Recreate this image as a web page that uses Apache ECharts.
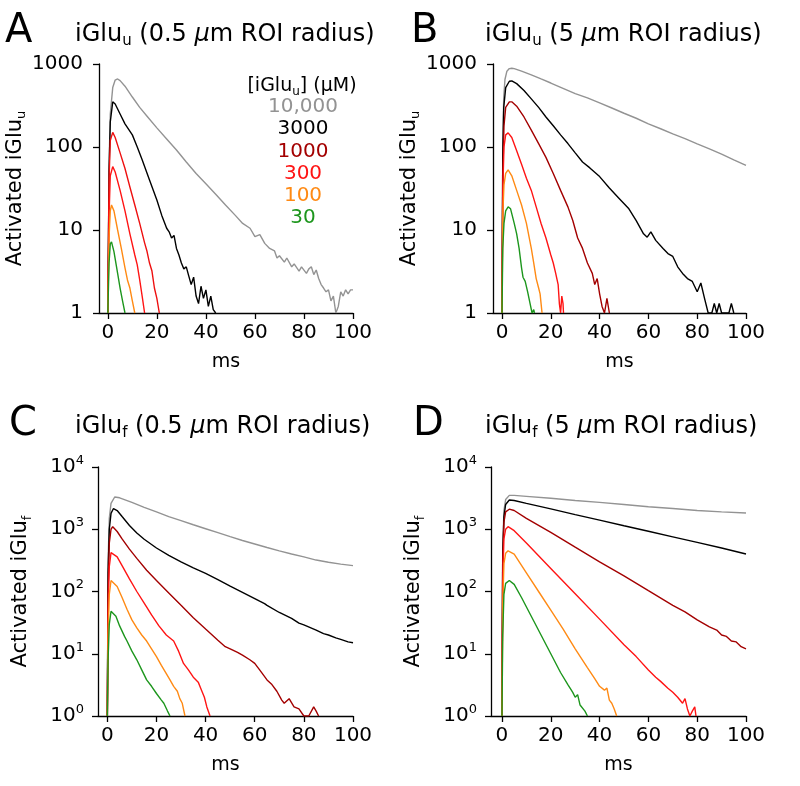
<!DOCTYPE html>
<html><head><meta charset="utf-8">
<script src="https://cdn.jsdelivr.net/npm/echarts@6/dist/echarts.min.js"></script>
<style>html,body{margin:0;padding:0;background:#fff}#c{width:800px;height:786px}</style>
</head><body><div id="c"></div>
<script>
const concLabels = ['10,000','3000','1000','300','100','30'];
const lineColors = ['#939393','#000000','#a30000','#ff1414','#ff8a14','#1d961d'];
const panelALineColors = ['#939393','#000000','#ee1010','#ff1414','#ff8a14','#1d961d'];
const xTicks = [0,20,40,60,80,100];

// Panel A: iGlu_u, 0.5 um ROI
const A_10000 = [[0,1],[0.5,60],[1,250],[2,520],[3,640],[4,660],[5,630],[7,540],[10,400],[13,300],[16,235],[20,170],[24,125],[28,92],[32,66],[36,48],[40,36],[44,27],[48,20],[52,15],[55,12],[58,10.5],[60,8.3],[62,8.8],[64,6.9],[66,6.0],[68,5.6],[69,4.6],[70,4.9],[72,4.1],[73,4.6],[75,3.6],[76,3.9],[78,3.2],[79,3.6],[81,3.0],[82,3.4],[83,3.6],[84,2.9],[85,3.3],[86,2.6],[87,2.2],[88,2.0],[89,1.8],[90,1.9],[91,1.4],[92,1.6],[93,1.0],[94,1.2],[95,1.8],[96,1.6],[97,1.9],[98,1.7],[99,1.9],[100,1.9]];
const A_3000 = [[0,1],[0.5,50],[1,200],[2,350],[3,330],[5,250],[7,190],[10,140],[12,100],[14,70],[17,40],[20,23],[22,15],[24,10.5],[25,9.5],[26,8],[27,8.6],[28,6],[29,5],[30,4],[31,3.4],[32,3.6],[33,2.8],[34,2.2],[35,2.7],[36,1.6],[37,1.3],[38,2.1],[39,1.5],[40,1.9],[41,1.2],[42,1.6],[43,1.1],[44,1]];
const A_1000 = [[0,1],[0.5,40],[1,120],[2,150],[3,130],[5,85],[7,55],[9,33],[11,20],[13,12],[15,7],[16,5.5],[17,4],[18,3.2],[19,2.0],[20,1.5],[21,1]];
const A_300 = [[0,1],[0.5,15],[1,45],[2,58],[3,50],[5,30],[7,17],[9,9],[11,5],[12,3.8],[13,2.5],[14,1.6],[15,1]];
const A_100 = [[0,1],[0.5,8],[1,17],[1.5,20],[2.5,17],[4,10],[5.5,6],[7,3.5],[8,2.5],[9,2.0],[10,1.4],[11,1]];
const A_30 = [[0,1],[0.5,4],[1,6.8],[1.5,7.2],[2.5,5.5],[4,3],[5,2],[6,1.4],[7,1]];

// Panel B: iGlu_u, 5 um ROI
const B_10000 = [[0,1],[0.3,100],[0.7,400],[1.2,650],[2,820],[3,880],[4,890],[5,880],[8,820],[12,740],[16,660],[20,590],[25,510],[30,440],[35,390],[40,340],[45,295],[50,255],[55,222],[60,190],[65,166],[70,144],[75,126],[80,109],[85,95],[90,82],[95,70],[100,60]];
const B_3000 = [[0,1],[0.3,80],[0.7,300],[1.5,520],[3,620],[4,625],[6,580],[9,480],[12,380],[15,300],[18,230],[21,180],[24,140],[27,110],[30,85],[33,66],[36,56],[40,44],[44,32],[48,24],[52,18],[55,13],[58,9],[59.5,8.2],[61,9.5],[63,7.5],[66,6],[68,5.2],[70,4.8],[72,3.6],[74,3.0],[76,2.6],[78,2.4],[80,1.8],[81.5,2.3],[83,1.5],[84.5,1],[86,1],[87,1.3],[88,1],[89,1.3],[90,1],[93,1],[94,1.3],[95,1]];
const B_1000 = [[0,1],[0.3,40],[0.8,180],[1.5,300],[3,350],[4,350],[6,310],[9,230],[12,160],[15,110],[18,75],[21,48],[24,30],[27,19],[29,13],[31,8],[33,6],[35,4],[37,3],[38,2.2],[39,2.6],[40,1.7],[41,1.2],[42,1],[43,1.5],[44,1]];
const B_300 = [[0,1],[0.3,30],[0.8,100],[1.5,140],[2.5,148],[4,130],[6,90],[8,62],[10,42],[12,30],[14,19],[16,12],[18,8],[20,5],[21,4],[22,3],[23,2.2],[23.5,1.3],[24,1],[24.5,1.6],[25,1.3],[25.2,1]];
const B_100 = [[0,1],[0.3,15],[0.8,35],[1.5,48],[2.5,53],[4,45],[6,30],[8,20],[10,12],[12,6],[13,4],[14,2.6],[15,2],[15.6,1.7],[16.4,1]];
const B_30 = [[0,1],[0.3,6],[0.8,12],[1.5,17],[2.5,19],[3.5,18],[5,12],[6,9],[7,6],[8,3.5],[8.6,2.7],[9.5,2.4],[10.5,1.8],[11.5,1.3],[12.3,1],[13,1.1],[13.3,1]];

// Panel C: iGlu_f, 0.5 um ROI
const C_10000 = [[0,1],[0.3,300],[0.8,1500],[1.5,2600],[3,3300],[5,3200],[10,2700],[15,2250],[20,1900],[25,1600],[30,1380],[35,1180],[40,1020],[45,880],[50,760],[55,660],[60,580],[65,510],[70,450],[75,400],[80,360],[85,320],[90,295],[95,275],[100,260]];
const C_3000 = [[0,1],[0.3,200],[0.8,1000],[1.5,1800],[2.5,2150],[4,2000],[6,1600],[9,1150],[12,870],[15,690],[20,500],[25,380],[30,300],[35,240],[40,195],[45,155],[50,122],[55,97],[60,77],[62,70],[64,64],[65,60],[70,46],[75,37],[78,31],[80,29],[85,24],[88,21],[90,20],[93,18],[95,17],[98,15.5],[100,15]];
const C_1000 = [[0,1],[0.3,100],[0.8,600],[1.5,1000],[2.2,1100],[4,920],[6,700],[9,480],[12,340],[16,220],[20,150],[25,95],[30,60],[35,38],[40,25],[45,16.5],[48,13],[50,12],[53,10.5],[55,9.5],[58,8],[60,7],[62,5.5],[65,3.8],[67,3.2],[69,2.5],[71,1.8],[72,1.6],[74,1.9],[76,1.4],[78,1.3],[80,1],[82,1],[84,1.4],[85,1.2],[86,1]];
const C_300 = [[0,1],[0.3,50],[0.8,250],[1.5,420],[2.2,450],[4,360],[6,260],[9,160],[12,100],[15,65],[18,42],[21,28],[24,20],[27,16],[29,11],[31,7],[33,5.5],[35,4.2],[37,3.5],[38,2.8],[39.5,2],[40.5,1.4],[41.8,1]];
const C_100 = [[0,1],[0.3,20],[0.8,90],[1.5,150],[2.2,160],[4,120],[6,80],[8,52],[10,35],[12,26],[14,20],[16,16],[18,12],[20,9],[22,6.5],[24,4.8],[25.5,3.8],[27,3],[28.5,2.5],[29.5,1.9],[30.5,1.6],[31.6,1]];
const C_30 = [[0,1],[0.3,8],[0.8,30],[1.5,48],[2.2,50],[3.5,40],[5,28],[7,19],[8,16],[10,11],[12,8],[14,5.5],[16,3.8],[18,3],[20,2.3],[22,1.8],[23,1.6],[24.5,1.2],[25.5,1]];

// Panel D: iGlu_f, 5 um ROI
const D_10000 = [[0,1],[0.3,500],[0.8,2000],[1.5,3000],[3,3500],[5,3500],[10,3380],[20,3150],[30,2900],[40,2700],[50,2500],[60,2300],[70,2150],[80,2000],[90,1900],[100,1820]];
const D_3000 = [[0,1],[0.3,400],[0.8,1600],[1.5,2500],[3,2950],[5,2900],[10,2600],[20,2120],[30,1720],[40,1400],[50,1140],[60,930],[70,755],[80,615],[90,500],[100,400]];
const D_1000 = [[0,1],[0.3,300],[0.8,1300],[1.5,1900],[3,2100],[5,2000],[10,1500],[20,890],[30,515],[40,300],[50,178],[60,103],[70,60],[75,47],[80,35],[85,27],[88,24],[90,20],[92,19],[94,16],[96,15.5],[98,13],[100,12]];
const D_300 = [[0,1],[0.3,150],[0.8,700],[1.5,1000],[2.5,1100],[5,950],[10,600],[20,235],[30,92],[40,36],[50,14],[55,9],[60,5.5],[63,4.2],[65,3.6],[68,2.8],[70,2.4],[72,2.0],[74,1.6],[75,1.9],[76,1.3],[77,1],[78,1.2],[79,1.4],[79.5,1]];
const D_100 = [[0,1],[0.3,60],[0.8,280],[1.5,410],[2.5,450],[5,400],[10,200],[15,100],[20,50],[25,25],[30,12],[35,6],[38,4],[40,3],[42,2.6],[43,2.8],[44,1.8],[45,1.6],[46,1.3],[47,1]];
const D_30 = [[0,1],[0.3,20],[0.8,90],[1.5,135],[3,150],[5,130],[8,80],[12,40],[16,20],[20,10],[24,5],[27,3.2],[29,2.4],[30,2],[31,2.2],[32,1.5],[34,1.2],[35,1]];

const panelData = [
  [A_10000, A_3000, A_1000, A_300, A_100, A_30],
  [B_10000, B_3000, B_1000, B_300, B_100, B_30],
  [C_10000, C_3000, C_1000, C_300, C_100, C_30],
  [D_10000, D_3000, D_1000, D_300, D_100, D_30]
];

const FF = "'DejaVu Sans'";
const grids = [
  {left: 99, top: 64, width: 254, height: 249, xmin: -3.6, ymax: 1000, sub: 'u'},
  {left: 493, top: 64, width: 253, height: 249, xmin: -3.7, ymax: 1000, sub: 'u'},
  {left: 98, top: 467, width: 255, height: 249, xmin: -3.8, ymax: 10000, sub: 'f'},
  {left: 491, top: 467, width: 255, height: 249, xmin: -4.5, ymax: 10000, sub: 'f'}
];
const TF = 24;
const richTitle = {
  a: {fontSize: TF, fontFamily: FF, fontWeight: 'normal', color: '#000', lineHeight: 28},
  s: {fontSize: 15, fontFamily: FF, fontWeight: 'normal', color: '#000', lineHeight: 15, verticalAlign: 'bottom'},
  i: {fontSize: TF, fontFamily: FF, fontWeight: 'normal', color: '#000', lineHeight: 28, fontStyle: 'italic'}
};
const letters = ['A','B','C','D'];
const titles = [
  '{a|iGlu}{s|u}{a| (0.5 }{i|\u03bc}{a|m ROI radius)}',
  '{a|iGlu}{s|u}{a| (5 }{i|\u03bc}{a|m ROI radius)}',
  '{a|iGlu}{s|f}{a| (0.5 }{i|\u03bc}{a|m ROI radius)}',
  '{a|iGlu}{s|f}{a| (5 }{i|\u03bc}{a|m ROI radius)}'
];
const letterPos = [[0,7],[406,7],[4,400],[408,400]];
const titlePos = [[70,16],[480,16],[70,408],[480,408]];

const axisLineStyle = {color: '#000', width: 1.3};
const option = {
  animation: false,
  backgroundColor: '#fff',
  title: [].concat(
    letters.map((l, i) => ({text: l, left: letterPos[i][0], top: letterPos[i][1], textStyle: {fontSize: 40, fontWeight: 'normal', fontFamily: FF, color: '#000'}})),
    titles.map((t, i) => ({text: t, left: titlePos[i][0], top: titlePos[i][1], textStyle: {fontWeight: 'normal', fontFamily: FF, fontSize: TF, rich: richTitle}}))
  ),
  grid: grids.map(g => ({left: g.left, top: g.top, width: g.width, height: g.height, containLabel: false})),
  xAxis: grids.map((g, i) => ({
    type: 'value', gridIndex: i, min: g.xmin, max: 100,
    axisLine: {show: true, onZero: false, lineStyle: axisLineStyle},
    axisTick: {show: true, length: 6, inside: false, customValues: xTicks, lineStyle: axisLineStyle},
    axisLabel: {customValues: xTicks, fontSize: 20, fontFamily: FF, color: '#000', margin: 10},
    splitLine: {show: false},
    name: 'ms', nameLocation: 'middle', nameGap: 40,
    nameTextStyle: {fontSize: 19, fontFamily: FF, color: '#000'}
  })),
  yAxis: grids.map((g, i) => ({
    type: 'log', logBase: 10, gridIndex: i, min: 1, max: g.ymax,
    axisLine: {show: true, onZero: false, lineStyle: axisLineStyle},
    axisTick: {show: true, length: 6, inside: false, lineStyle: axisLineStyle},
    minorTick: {show: false},
    splitLine: {show: false},
    axisLabel: {
      fontSize: 20, fontFamily: FF, color: '#000', margin: g.ymax > 1000 ? 14 : 16,
      formatter: g.ymax > 1000 ? (v => '{a|10}{sup|' + Math.round(Math.log10(v)) + '}') : (v => String(Math.round(v))),
      rich: {a: {fontSize: 20, fontFamily: FF, color: '#000', lineHeight: 26}, sup: {fontSize: 13, fontFamily: FF, color: '#000', lineHeight: 13, verticalAlign: 'top'}}
    },
    name: '{a|Activated iGlu}{s|' + g.sub + '}',
    nameLocation: 'middle', nameGap: 64,
    nameTextStyle: {rich: {
      a: {fontSize: 21, fontFamily: FF, color: '#000', lineHeight: 26},
      s: {fontSize: 13, fontFamily: FF, color: '#000', lineHeight: 13, verticalAlign: 'bottom'}
    }}
  })),
  graphic: [
    {type: 'text', x: 302, y: 86, style: {text: '{a|[iGlu}{s|u}{a|] (\u03bcM)}', rich: {
      a: {fontSize: 19, fontFamily: FF, fill: '#000', lineHeight: 24},
      s: {fontSize: 12, fontFamily: FF, fill: '#000', lineHeight: 12, verticalAlign: 'bottom'}
    }, align: 'center', verticalAlign: 'middle', textAlign: 'center', textVerticalAlign: 'middle'}}
  ].concat(concLabels.map((c, i) => ({
    type: 'text', x: 303, y: 107 + i * 22.2,
    style: {text: c, fill: lineColors[i], font: '20px ' + FF, align: 'center', verticalAlign: 'middle', textAlign: 'center', textVerticalAlign: 'middle'}
  }))),
  series: []
};
panelData.forEach((arrs, p) => {
  const cols = p === 0 ? panelALineColors : lineColors;
  arrs.forEach((d, i) => {
    option.series.push({
      type: 'line', name: concLabels[i], xAxisIndex: p, yAxisIndex: p, data: d,
      showSymbol: false, symbol: 'none', clip: true, silent: true,
      color: cols[i], lineStyle: {color: cols[i], width: 1.4}
    });
  });
});
const chart = echarts.init(document.getElementById('c'), null, {renderer: 'canvas'});
chart.setOption(option);
</script>
</body></html>
